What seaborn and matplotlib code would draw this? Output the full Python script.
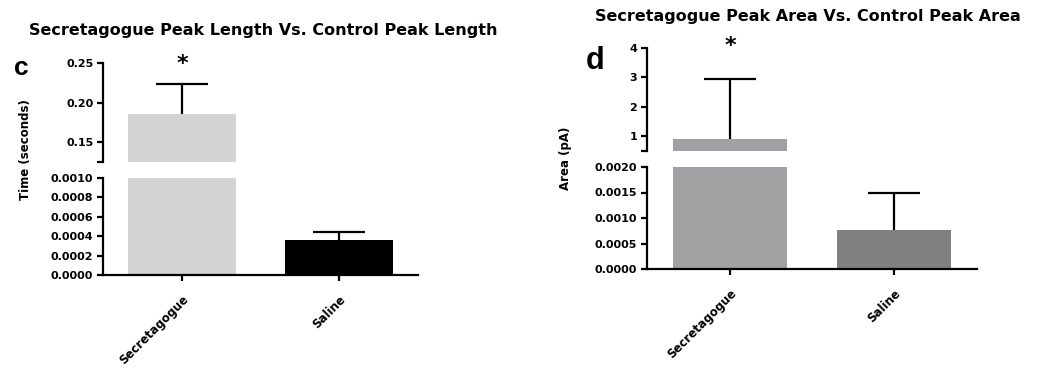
import matplotlib
matplotlib.use("Agg")
import matplotlib.pyplot as plt
import seaborn as sns
import numpy as np
import pandas as pd

sns.set_theme(style="white")
plt.rcParams['font.family'] = ['DejaVu Sans']
plt.rcParams['font.weight'] = 'bold'
plt.rcParams['text.color'] = 'black'
plt.rcParams['xtick.color'] = 'black'
plt.rcParams['ytick.color'] = 'black'

# ---- data ----
categories = ["Secretagogue", "Saline"]
length_mean = [0.186, 0.00036]
length_err = [0.037, 0.000085]
area_mean = [0.92, 0.00076]
area_err = [2.03, 0.00074]

colors_c = ["#d3d3d3", "#000000"]
colors_d = ["#a1a0a5", "#808080"]

c_upper_ticks = [0.15, 0.20, 0.25]
c_lower_ticks = [0.0, 0.0002, 0.0004, 0.0006, 0.0008, 0.0010]
d_upper_ticks = [1, 2, 3, 4]
d_lower_ticks = [0.0, 0.0005, 0.0010, 0.0015, 0.0020]

fig = plt.figure(figsize=(10.6, 3.71), dpi=100)

def fpos(x0, x1, y0, y1):
    W, H = 1060, 371
    return [x0 / W, 1 - y1 / H, (x1 - x0) / W, (y1 - y0) / H]

def style_axis(ax, lower):
    for s in ax.spines.values():
        s.set_linewidth(1.6)
        s.set_color("black")
    ax.spines['top'].set_visible(False)
    ax.spines['right'].set_visible(False)
    ax.tick_params(axis='y', direction='out', length=4, width=1.6, colors='black',
                   labelsize=8, left=True, pad=3)
    ax.tick_params(axis='y', which='minor', direction='out', length=4, width=1.6, left=True)
    if lower:
        ax.tick_params(axis='x', direction='out', length=4, width=1.6, bottom=True,
                       labelsize=8.5, pad=9, colors='black')
    else:
        ax.spines['bottom'].set_visible(False)
        ax.tick_params(axis='x', bottom=False, labelbottom=False)
    ax.set_xlabel("")
    ax.set_ylabel("")
    ax.grid(False)

def draw_panel(ax_up, ax_lo, means, errs, colors, up_lim, lo_lim, up_ticks, lo_ticks,
               up_fmt, lo_fmt, xlim):
    df = pd.DataFrame({"group": categories, "value": means})
    for ax in (ax_up, ax_lo):
        sns.barplot(data=df, x="group", y="value", hue="group", palette=colors,
                    legend=False, width=0.69, errorbar=None, ax=ax,
                    edgecolor="none", linewidth=0)
        eb = ax.errorbar(range(len(means)), means, yerr=[np.zeros(len(errs)), errs],
                         fmt='none', ecolor='black', elinewidth=1.6, capsize=19,
                         capthick=1.6, zorder=5)
        # keep only the upper caps
        eb[1][0].remove()
        ax.set_xlim(*xlim)
    ax_up.set_ylim(*up_lim)
    ax_lo.set_ylim(*lo_lim)
    ax_up.set_yticks(up_ticks)
    ax_up.set_yticklabels([up_fmt.format(t) for t in up_ticks])
    ax_up.set_yticks([up_lim[0]], minor=True)
    ax_lo.set_yticks(lo_ticks)
    ax_lo.set_yticklabels([lo_fmt.format(t) for t in lo_ticks])
    style_axis(ax_up, False)
    style_axis(ax_lo, True)
    ax_lo.set_xticks(range(len(categories)))
    ax_lo.set_xticklabels(categories, rotation=45, ha='right', rotation_mode='anchor',
                          fontweight='bold')

# Panel c
axc_up = fig.add_axes(fpos(103, 418, 63, 162))
axc_lo = fig.add_axes(fpos(103, 418, 178, 275))
draw_panel(axc_up, axc_lo, length_mean, length_err, colors_c,
           (0.125, 0.25), (0.0, 0.0010), c_upper_ticks, c_lower_ticks,
           "{:.2f}", "{:.4f}", (-0.503, 1.503))

# Panel d
axd_up = fig.add_axes(fpos(647, 977, 48, 151))
axd_lo = fig.add_axes(fpos(647, 977, 167, 269))
draw_panel(axd_up, axd_lo, area_mean, area_err, colors_d,
           (0.5, 4.0), (0.0, 0.0020), d_upper_ticks, d_lower_ticks,
           "{:.0f}", "{:.4f}", (-0.506, 1.506))

# stars
axc_up.text(0, 0.99, "*", transform=axc_up.get_xaxis_transform(), ha='center',
            va='center', fontsize=16, fontweight='bold', clip_on=False)
axd_up.text(0, 1.02, "*", transform=axd_up.get_xaxis_transform(), ha='center',
            va='center', fontsize=16, fontweight='bold', clip_on=False)

# titles, panel letters, y labels
fig.text(263 / 1060, 1 - 31 / 371, "Secretagogue Peak Length Vs. Control Peak Length",
         ha='center', va='center', fontsize=11.5, fontweight='bold')
fig.text(808 / 1060, 1 - 17 / 371, "Secretagogue Peak Area Vs. Control Peak Area",
         ha='center', va='center', fontsize=11.5, fontweight='bold')
fig.text(21 / 1060, 1 - 68 / 371, "c", ha='center', va='center', fontsize=19, fontweight='bold',
         family='Liberation Sans')
fig.text(595 / 1060, 1 - 61 / 371, "d", ha='center', va='center', fontsize=22, fontweight='bold',
         family='Liberation Sans')
fig.text(26 / 1060, 1 - 150 / 371, "Time (seconds)", rotation=90, ha='center', va='center',
         fontsize=8.5, fontweight='bold')
fig.text(566 / 1060, 1 - 158 / 371, "Area (pA)", rotation=90, ha='center', va='center',
         fontsize=8.5, fontweight='bold')

fig.savefig("out.png", dpi=100)
